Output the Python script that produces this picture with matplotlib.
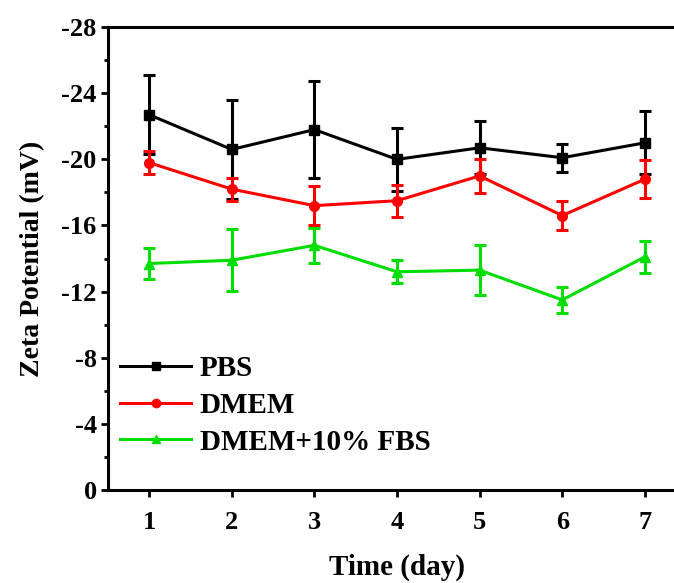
import matplotlib

matplotlib.use("Agg")
import matplotlib.pyplot as plt
from matplotlib.lines import Line2D
from matplotlib.ticker import MultipleLocator

# Zeta potential over time in three media
days = [1, 2, 3, 4, 5, 6, 7]
pbs = [-22.7, -20.6, -21.8, -20.0, -20.7, -20.1, -21.0]
pbs_err = [2.4, 3.0, 2.95, 1.9, 1.6, 0.85, 1.9]
dmem = [-19.8, -18.2, -17.2, -17.5, -19.0, -16.6, -18.8]
dmem_err = [0.7, 0.7, 1.2, 0.97, 1.05, 0.9, 1.15]
fbs = [-13.7, -13.9, -14.8, -13.2, -13.3, -11.5, -14.1]
fbs_err = [0.93, 1.87, 1.05, 0.7, 1.5, 0.8, 0.95]

plt.rcParams["font.family"] = ["Liberation Serif", "DejaVu Serif"]
plt.rcParams["font.weight"] = "bold"
plt.rcParams["axes.unicode_minus"] = False

fig = plt.figure(figsize=(6.74, 5.83), dpi=100)
ax = fig.add_axes([0.160, 0.1595, 0.858, 0.794])

series = [
    (pbs, pbs_err, "black", "s", "PBS"),
    (dmem, dmem_err, "#ff0000", "o", "DMEM"),
    (fbs, fbs_err, "#00dd00", "^", "DMEM+10% FBS"),
]
handles = []
for vals, errs, color, marker, label in series:
    ax.errorbar(days, vals, yerr=errs, color=color, marker=marker, markersize=7,
                linewidth=2.2, elinewidth=2.2, capsize=4, capthick=2.2)
    handles.append(Line2D([], [], color=color, marker=marker, markersize=6,
                          linewidth=2.2, label=label))

ax.set_xlim(0.5, 7.5)
ax.set_ylim(0, -28)
ax.yaxis.set_major_locator(MultipleLocator(4))
ax.yaxis.set_minor_locator(MultipleLocator(2))
ax.set_xticks(days)

for side in ["left", "bottom", "top", "right"]:
    ax.spines[side].set_linewidth(2.2)
ax.tick_params(axis="both", which="major", direction="out", length=5, width=2.0,
               labelsize=19)
ax.tick_params(axis="y", which="major", pad=3)
ax.tick_params(axis="x", which="major", pad=10)
ax.tick_params(axis="y", which="minor", direction="out", length=3, width=2.0)
for lab in ax.get_xticklabels() + ax.get_yticklabels():
    lab.set_fontweight("bold")

ax.set_xlabel("Time (day)", fontsize=21, fontweight="bold", labelpad=14)
ax.set_ylabel("Zeta Potential (mV)", fontsize=20, fontweight="bold", labelpad=12)

ax.legend(handles=handles, loc="upper left", bbox_to_anchor=(0.021, 0.292),
          frameon=False, prop={"size": 21, "weight": "bold"}, handlelength=2.45,
          handletextpad=0.28, labelspacing=0.34, borderaxespad=0, borderpad=0)

fig.savefig("out.png", dpi=100)
plt.close(fig)
